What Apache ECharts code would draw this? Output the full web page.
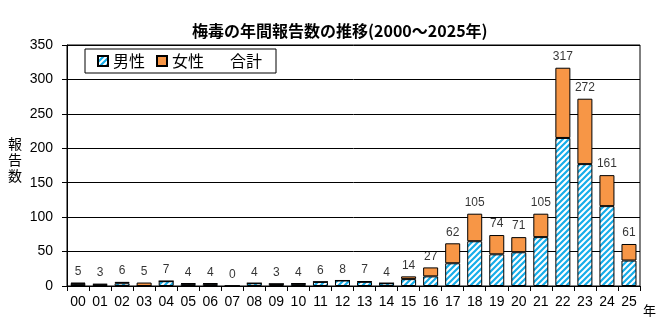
<!DOCTYPE html>
<html>
<head>
<meta charset="utf-8">
<script src="https://cdn.jsdelivr.net/npm/echarts@6/dist/echarts.min.js"></script>
<style>
  html, body { margin: 0; padding: 0; background: #fff; }
  #chart { width: 662px; height: 325px; }
</style>
</head>
<body>
<div id="chart"></div>
<script>
// 年（西暦下2桁）
const years = ['00','01','02','03','04','05','06','07','08','09','10','11','12',
               '13','14','15','16','17','18','19','20','21','22','23','24','25'];
// 男性の報告数
const male   = [3, 2, 4, 0, 7, 3, 3, 0, 4, 3, 3, 6, 8, 6, 4, 10, 14, 33, 65, 46, 49, 71, 215, 177, 116, 37];
// 女性の報告数
const female = [2, 1, 2, 5, 0, 1, 1, 0, 0, 0, 1, 0, 0, 1, 0, 4, 13, 29, 40, 28, 22, 34, 102, 95, 45, 24];
// 合計
const total  = [5, 3, 6, 5, 7, 4, 4, 0, 4, 3, 4, 6, 8, 7, 4, 14, 27, 62, 105, 74, 71, 105, 317, 272, 161, 61];

const yTicks = { min: 0, max: 350, interval: 50 };

const NUM_FONT = '"Liberation Sans", Arial, sans-serif';
const JP_FONT = '"Noto Sans CJK JP", sans-serif';

// 斜線（／）ハッチングのパターン
function hatch() {
  const s = 6;
  const c = document.createElement('canvas');
  c.width = s; c.height = s;
  const g = c.getContext('2d');
  g.fillStyle = '#ffffff';
  g.fillRect(0, 0, s, s);
  g.strokeStyle = '#16ade9';
  g.lineWidth = 2.2;
  g.beginPath();
  g.moveTo(-1, s + 1); g.lineTo(s + 1, -1);
  g.moveTo(-1, 1); g.lineTo(1, -1);
  g.moveTo(s - 1, s + 1); g.lineTo(s + 1, s - 1);
  g.stroke();
  return c;
}

const chart = echarts.init(document.getElementById('chart'), null, { renderer: 'canvas' });

chart.setOption({
  animation: false,
  backgroundColor: '#ffffff',
  title: {
    text: '梅毒の年間報告数の推移(2000～2025年)',
    left: 187, top: 18,
    textStyle: { fontFamily: JP_FONT, fontSize: 16, fontWeight: 'bold', color: '#000' }
  },
  legend: {
    left: 85, top: 49,
    orient: 'horizontal',
    backgroundColor: '#ffffff',
    borderColor: '#000', borderWidth: 1,
    padding: [4, 14, 4, 12],
    itemWidth: 10, itemHeight: 10,
    itemGap: 11,
    itemTextGap: 3,
    textStyle: { fontFamily: JP_FONT, fontSize: 16, color: '#000' },
    data: [
      { name: '男性', icon: 'rect' },
      { name: '女性', icon: 'rect' },
      { name: '合計', icon: 'rect',
        itemStyle: { color: 'rgba(0,0,0,0)', borderColor: 'rgba(0,0,0,0)', borderWidth: 0 } }
    ]
  },
  grid: {
    left: 67, right: 22, top: 45, bottom: 39,
    show: true, borderColor: '#000', borderWidth: 1
  },
  xAxis: {
    type: 'category',
    data: years,
    axisLine: { lineStyle: { color: '#000', width: 1 } },
    axisTick: { show: true, length: 5, lineStyle: { color: '#000' } },
    axisLabel: { interval: 0, margin: 9, fontFamily: NUM_FONT, fontSize: 14, color: '#000' },
    splitLine: { show: false }
  },
  yAxis: {
    type: 'value',
    min: yTicks.min, max: yTicks.max, interval: yTicks.interval,
    axisLine: { show: true, lineStyle: { color: '#000', width: 1 } },
    axisTick: { show: true, length: 5, lineStyle: { color: '#000' } },
    axisLabel: { margin: 14, fontFamily: NUM_FONT, fontSize: 14, color: '#000' },
    splitLine: { show: true, lineStyle: { color: '#000', width: 1 } }
  },
  graphic: [
    {
      type: 'text', left: 8, top: 136,
      style: { text: '報\n告\n数', font: '14px ' + JP_FONT, lineHeight: 16, fill: '#000' }
    },
    {
      type: 'text', left: 643, top: 304,
      style: { text: '年', font: '13px ' + JP_FONT, fill: '#000' }
    }
  ],
  series: [
    {
      name: '男性', type: 'bar', stack: 'sum',
      data: male, barWidth: 15,
      itemStyle: { color: { image: hatch(), repeat: 'repeat' }, borderColor: '#000', borderWidth: 1 }
    },
    {
      name: '女性', type: 'bar', stack: 'sum',
      data: female, barWidth: 15,
      itemStyle: { color: '#f79646', borderColor: '#000', borderWidth: 1 }
    },
    {
      name: '合計', type: 'scatter',
      data: total, symbolSize: 0, silent: true,
      itemStyle: { color: 'rgba(0,0,0,0)' },
      label: {
        show: true, position: 'top', distance: 5,
        fontFamily: NUM_FONT, fontSize: 12, color: '#000'
      }
    }
  ]
});
</script>
</body>
</html>
